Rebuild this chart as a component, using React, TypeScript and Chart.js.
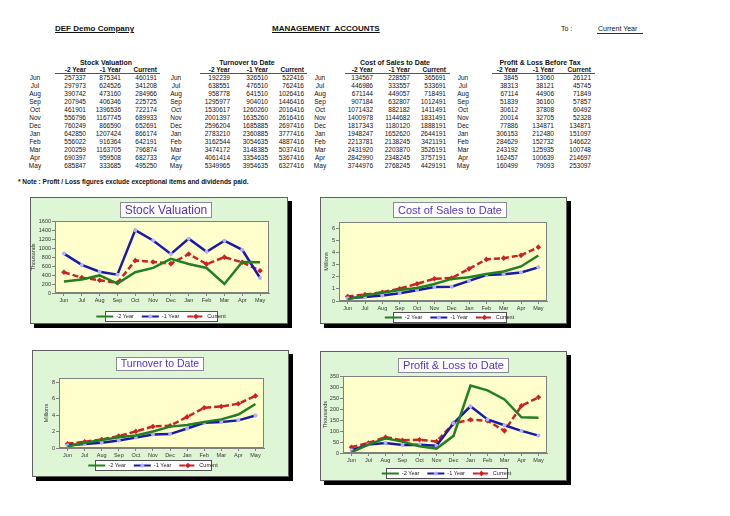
import React, { useEffect, useRef } from 'react';
import { Chart, registerables } from 'chart.js';
Chart.register(...registerables);

const months = ['Jun', 'Jul', 'Aug', 'Sep', 'Oct', 'Nov', 'Dec', 'Jan', 'Feb', 'Mar', 'Apr', 'May'];
const seriesNames = ['-2 Year', '-1 Year', 'Current'];

const stockPrev2 = [257337, 297973, 390742, 207945, 461901, 556796, 760249, 642850, 556022, 200259, 690397, 685847];
const stockPrev1 = [875341, 624526, 473160, 406346, 1396536, 1167745, 866590, 1207424, 916364, 1163705, 959508, 333685];
const stockCurrent = [460191, 341208, 284966, 225725, 722174, 689933, 652691, 866174, 642191, 796874, 682733, 495250];

const turnPrev2 = [192239, 638551, 958778, 1295977, 1530617, 2001397, 2596204, 2783210, 3162544, 3474172, 4061414, 5349965];
const turnPrev1 = [326510, 476510, 641510, 904010, 1260260, 1635260, 1685885, 2360885, 3054635, 3148385, 3354635, 3954635];
const turnCurrent = [522416, 762416, 1026416, 1446416, 2016416, 2616416, 2697416, 3777416, 4887416, 5037416, 5367416, 6327416];

const costPrev2 = [134567, 446986, 671144, 907184, 1071432, 1400978, 1817343, 1948247, 2213781, 2431920, 2842990, 3744976];
const costPrev1 = [228557, 333557, 449057, 632807, 882182, 1144682, 1180120, 1652620, 2138245, 2203870, 2348245, 2768245];
const costCurrent = [365691, 533691, 718491, 1012491, 1411491, 1831491, 1888191, 2644191, 3421191, 3526191, 3757191, 4429191];

const plPrev2 = [3845, 38313, 67114, 51839, 30612, 20014, 77886, 306153, 284629, 243192, 162457, 160499];
const plPrev1 = [13060, 38121, 44906, 36160, 37808, 32705, 134871, 212480, 152732, 125935, 100639, 79093];
const plCurrent = [26121, 45745, 71849, 57857, 60492, 52328, 134871, 151097, 146622, 100748, 214697, 253097];

const FONT = 'Arial, "Liberation Sans", sans-serif';
const COLORS = ['#228022', '#1a1aa8', '#cc2222'];

type TableBlock = {
  title: string; titleX: number; monthX: number; cols: number[]; ulL: number; ulR: number; data: number[][];
};

const tableBlocks: TableBlock[] = [
  { title: 'Stock Valuation', titleX: 106, monthX: 35, cols: [86, 121, 157], ulL: 55, ulR: 160, data: [stockPrev2, stockPrev1, stockCurrent] },
  { title: 'Turnover to Date', titleX: 247, monthX: 176, cols: [230, 268, 304], ulL: 200, ulR: 307, data: [turnPrev2, turnPrev1, turnCurrent] },
  { title: 'Cost of Sales to Date', titleX: 395, monthX: 320, cols: [373, 410, 446], ulL: 345, ulR: 450, data: [costPrev2, costPrev1, costCurrent] },
  { title: 'Profit & Loss Before Tax', titleX: 540, monthX: 463, cols: [518, 554, 591], ulL: 492, ulR: 595, data: [plPrev2, plPrev1, plCurrent] },
];

type PanelCfg = {
  x: number; y: number; w: number; h: number;
  plot: number[]; yAxisW: number; xAxisH: number;
  title: string; titleCx: number; titleTop: number; titleH: number; titleSize: number;
  legend: number[];
  yTitle: string; max: number; step: number; div: number;
  series: number[][];
};

const panels: PanelCfg[] = [
  { x: 30, y: 197, w: 258, h: 127, plot: [55, 221, 269, 293], yAxisW: 25, xAxisH: 12, title: 'Stock Valuation', titleCx: 165.5, titleTop: 202, titleH: 15, titleSize: 12, legend: [105, 311, 217, 321], yTitle: 'Thousands', max: 1600000, step: 200000, div: 1000, series: [stockPrev2, stockPrev1, stockCurrent] },
  { x: 320, y: 197, w: 247, h: 127, plot: [339, 222, 547, 301], yAxisW: 16, xAxisH: 12, title: 'Cost of Sales to Date', titleCx: 449.5, titleTop: 202, titleH: 15, titleSize: 11, legend: [393, 312, 506, 322], yTitle: 'Millions', max: 6500000, step: 1000000, div: 1000000, series: [costPrev2, costPrev1, costCurrent] },
  { x: 32, y: 350, w: 257, h: 127, plot: [59, 378, 264, 448], yAxisW: 16, xAxisH: 12, title: 'Turnover to Date', titleCx: 159.5, titleTop: 357, titleH: 13, titleSize: 10.5, legend: [95, 460, 211, 470], yTitle: 'Millions', max: 8500000, step: 2000000, div: 1000000, series: [turnPrev2, turnPrev1, turnCurrent] },
  { x: 320, y: 351, w: 247, h: 130, plot: [343, 376, 547, 453], yAxisW: 21, xAxisH: 12, title: 'Profit & Loss to Date', titleCx: 452.5, titleTop: 358, titleH: 14, titleSize: 11, legend: [386, 468, 507, 478], yTitle: 'Thousands', max: 350000, step: 50000, div: 1000, series: [plPrev2, plPrev1, plCurrent] },
];

function drawMarker(ctx: CanvasRenderingContext2D, i: number, x: number, y: number) {
  if (i === 1) {
    ctx.beginPath();
    ctx.arc(x, y, 2, 0, Math.PI * 2);
    ctx.fillStyle = '#b0b0ff';
    ctx.fill();
  } else if (i === 2) {
    ctx.beginPath();
    ctx.moveTo(x, y - 2.8); ctx.lineTo(x + 2.8, y); ctx.lineTo(x, y + 2.8); ctx.lineTo(x - 2.8, y); ctx.closePath();
    ctx.fillStyle = COLORS[2];
    ctx.fill();
  }
}

function ChartPanel({ p }: { p: PanelCfg }) {
  const ref = useRef<HTMLCanvasElement>(null);
  useEffect(() => {
    if (!ref.current) return;
    const cw = p.w - 2, ch = p.h - 2;
    const ox = p.x + 1, oy = p.y + 1;
    const pl = p.plot[0] - ox, pt = p.plot[1] - oy, pr = p.plot[2] - ox, pb = p.plot[3] - oy;
    const deco = {
      id: 'deco',
      beforeDraw(chart: any) {
        const ctx = chart.ctx as CanvasRenderingContext2D;
        const a = chart.chartArea;
        ctx.save();
        ctx.fillStyle = '#ffffcc';
        ctx.fillRect(a.left, a.top, a.right - a.left, a.bottom - a.top);
        ctx.font = `${p.titleSize}px ${FONT}`;
        const tw = ctx.measureText(p.title).width;
        const bw = Math.round(tw + 9);
        const bx = Math.round(p.titleCx - ox - bw / 2);
        const by = p.titleTop - oy;
        ctx.fillStyle = '#ffffff';
        ctx.fillRect(bx, by, bw, p.titleH);
        ctx.strokeStyle = '#8a8a9a';
        ctx.lineWidth = 1;
        ctx.strokeRect(bx + 0.5, by + 0.5, bw, p.titleH);
        ctx.fillStyle = '#5233cc';
        ctx.textAlign = 'center';
        ctx.textBaseline = 'middle';
        ctx.fillText(p.title, bx + bw / 2 + 0.5, by + p.titleH / 2 + 1);
        ctx.restore();
      },
      afterDraw(chart: any) {
        const ctx = chart.ctx as CanvasRenderingContext2D;
        const a = chart.chartArea;
        ctx.save();
        ctx.strokeStyle = '#808080';
        ctx.lineWidth = 1;
        ctx.strokeRect(Math.round(a.left) + 0.5, Math.round(a.top) + 0.5, Math.round(a.right - a.left) - 1, Math.round(a.bottom - a.top) - 1);
        const [ll, lt, lr, lb] = p.legend;
        const lx = ll - ox, ly = lt - oy, lw = lr - ll, lh = lb - lt;
        ctx.fillStyle = '#ffffff';
        ctx.fillRect(lx, ly, lw, lh);
        ctx.strokeStyle = '#505050';
        ctx.strokeRect(lx + 0.5, ly + 0.5, lw, lh);
        ctx.font = `5.5px ${FONT}`;
        const sample = 17, gap = 3, sep = 8;
        const widths = chart.data.datasets.map((d: any) => ctx.measureText(d.label).width);
        const total = widths.reduce((s: number, w: number) => s + sample + gap + w, 0) + sep * (widths.length - 1);
        let cx = lx + lw / 2 - total / 2;
        const cy = ly + lh / 2 + 0.5;
        chart.data.datasets.forEach((d: any, i: number) => {
          ctx.strokeStyle = d.borderColor;
          ctx.lineWidth = 2;
          ctx.setLineDash(d.borderDash || []);
          ctx.beginPath();
          ctx.moveTo(cx, cy);
          ctx.lineTo(cx + sample, cy);
          ctx.stroke();
          ctx.setLineDash([]);
          drawMarker(ctx, i, cx + sample / 2, cy);
          ctx.fillStyle = '#222';
          ctx.textAlign = 'left';
          ctx.textBaseline = 'middle';
          ctx.fillText(d.label, cx + sample + gap, cy);
          cx += sample + gap + widths[i] + sep;
        });
        ctx.restore();
      },
    };
    const chart = new Chart(ref.current, {
      type: 'line',
      data: {
        labels: months,
        datasets: p.series.map((s, i) => ({
          label: seriesNames[i],
          data: s,
          borderColor: COLORS[i],
          backgroundColor: COLORS[i],
          borderWidth: 2.5,
          borderDash: i === 2 ? [6, 3] : [],
          tension: 0,
          pointRadius: i === 0 ? 0 : i === 1 ? 2 : 2.8,
          pointStyle: i === 2 ? 'rectRot' : 'circle',
          pointBackgroundColor: i === 1 ? '#b0b0ff' : COLORS[i],
          pointBorderColor: i === 1 ? '#b0b0ff' : COLORS[i],
          pointBorderWidth: 0,
          fill: false,
        })),
      },
      options: {
        responsive: false,
        animation: false,
        devicePixelRatio: 1,
        layout: { padding: { left: pl - p.yAxisW, top: pt, right: cw - pr, bottom: ch - pb - p.xAxisH } },
        plugins: { legend: { display: false }, title: { display: false }, tooltip: { enabled: false } },
        scales: {
          x: {
            offset: true,
            grid: { display: true, drawOnChartArea: false, drawTicks: true, tickLength: 3, color: '#808080' },
            border: { color: '#808080' },
            ticks: { font: { size: 5.5, family: FONT }, color: '#333', padding: 1, maxRotation: 0, autoSkip: false },
            afterFit: (s: any) => { s.height = p.xAxisH; },
          },
          y: {
            min: 0,
            max: p.max,
            grid: { display: true, drawOnChartArea: false, drawTicks: true, tickLength: 3, color: '#808080' },
            border: { color: '#808080' },
            afterBuildTicks: (s: any) => {
              const t: any[] = [];
              for (let v = 0; v <= p.max + 1e-6; v += p.step) t.push({ value: v });
              s.ticks = t;
            },
            ticks: {
              autoSkip: false,
              font: { size: 5.5, family: FONT },
              color: '#333',
              padding: 1,
              callback: (v: any) => String(Math.round(Number(v) / p.div)),
            },
            title: { display: true, text: p.yTitle, font: { size: 5.5, family: FONT }, color: '#333', padding: 0 },
            afterFit: (s: any) => { s.width = p.yAxisW; },
          },
        },
      },
      plugins: [deco],
    } as any);
    return () => chart.destroy();
  }, [p]);
  return (
    <div style={{ position: 'absolute', left: p.x, top: p.y, width: p.w, height: p.h, boxSizing: 'border-box', border: '1px solid #606060', background: '#def5d6', boxShadow: '4px 4px 0 #000' }}>
      <canvas ref={ref} width={p.w - 2} height={p.h - 2} style={{ display: 'block', width: p.w - 2, height: p.h - 2 }} />
    </div>
  );
}

function Txt({ x, y, children, align = 'left', w = 60, bold = false, size = 6.5, underline = false }: any) {
  let left = x;
  if (align === 'right') left = x - w;
  if (align === 'center') left = x - w / 2;
  return (
    <div style={{ position: 'absolute', left, top: y - 5, width: w, height: 10, lineHeight: '10px', textAlign: align, fontSize: size, fontWeight: bold ? 'bold' : 'normal', fontFamily: FONT, color: '#111', whiteSpace: 'pre', textDecoration: underline ? 'underline' : 'none' }}>
      {children}
    </div>
  );
}

function Block({ b }: { b: TableBlock }) {
  return (
    <>
      <Txt x={b.titleX} y={62.5} align="center" w={120} bold size={7}>{b.title}</Txt>
      {seriesNames.map((n, i) => (
        <Txt key={n} x={b.cols[i]} y={69.5} align="right" w={40} bold size={6.5}>{n}</Txt>
      ))}
      <div style={{ position: 'absolute', left: b.ulL, top: 73, width: b.ulR - b.ulL, height: 1, background: '#555' }} />
      {months.map((m, r) => (
        <React.Fragment key={m}>
          <Txt x={b.monthX} y={78 + r * 8} align="center" w={30}>{m}</Txt>
          {b.data.map((arr, c) => (
            <Txt key={c} x={b.cols[c]} y={78 + r * 8} align="right" w={40}>{String(arr[r])}</Txt>
          ))}
        </React.Fragment>
      ))}
    </>
  );
}

export default function App() {
  return (
    <div style={{ position: 'absolute', left: 0, top: 0, width: 730, height: 516, background: '#fff', overflow: 'hidden' }}>
      <Txt x={55} y={29} w={120} bold size={8} underline>DEF Demo Company</Txt>
      <Txt x={272} y={29} w={140} bold size={8} underline>{'MANAGEMENT  ACCOUNTS'}</Txt>
      <Txt x={561} y={29} w={30} size={7}>To :</Txt>
      <div style={{ position: 'absolute', left: 597, top: 33, width: 46, height: 1, background: '#333' }} />
      <Txt x={598} y={29} w={60} size={7}>Current Year</Txt>
      {tableBlocks.map((b) => <Block key={b.title} b={b} />)}
      <Txt x={18} y={182} w={320} bold size={6.5}>* Note : Profit / Loss figures exclude exceptional items and dividends paid.</Txt>
      {panels.map((p) => <ChartPanel key={p.title} p={p} />)}
    </div>
  );
}
